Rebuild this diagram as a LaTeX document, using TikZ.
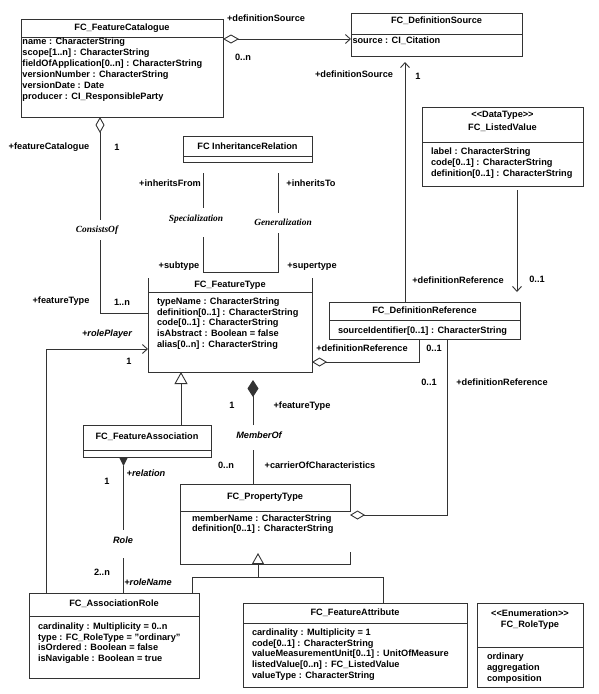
\documentclass[tikz,border=0pt]{standalone}
\usepackage{fontspec}
\setmainfont{Liberation Sans}
\newfontfamily\tnr{Liberation Serif}
\usetikzlibrary{arrows.meta,calc}
\colorlet{lc}{black!80}
\newcommand\sepln[2]{\draw[ln] ($(#1.north west)+(0,#2)$) -- ($(#1.north east)+(0,#2)$);}
\newcommand\lgl{<\kern0pt<}
\newcommand\rgl{>\kern0pt>}
\tikzset{odia/.tip={Diamond[open,length=16pt,width=9pt]}, barb/.tip={Straight Barb[length=5pt,width=9pt]}}
\begin{document}
\begin{tikzpicture}[x=1pt,y=-1pt,
 every node/.style={font=\fontsize{9.2}{10.8}\selectfont\bfseries, inner sep=0pt, outer sep=0pt, text height=6.7pt, text depth=1.9pt, text=black},
 ln/.style={draw=lc, line width=0.9pt},
 box/.style={ln, anchor=north west},
 nobox/.style={anchor=north west},
 attr/.style={anchor=west},
 ilab/.style={font=\fontsize{9.2}{10.8}\selectfont\bfseries\itshape},
 tlab/.style={font=\fontsize{9.4}{10.8}\selectfont\tnr\bfseries\itshape},
]
\useasboundingbox (0,0) rectangle (599,694);
\fill[white] (0,0) rectangle (599,694);

% ---------- classes ----------
\node[box, minimum width=202pt, minimum height=98pt] (fc) at (21,19) {};
\sepln{fc}{18}
\node (fc-t) at (122,28) {FC\_FeatureCatalogue};
\foreach \t [count=\i from 0] in {name : CharacterString, scope[1..n] : CharacterString, fieldOfApplication[0..n] : CharacterString, versionNumber : CharacterString, versionDate : Date, producer : CI\_ResponsibleParty}
  \node[attr] (fc-a\i) at (22.5,42+11.1*\i) {\t};

\node[box, minimum width=171pt, minimum height=43pt] (ds) at (351,13) {};
\sepln{ds}{21}
\node (ds-t) at (436.5,21) {FC\_DefinitionSource};
\node[attr] (ds-a0) at (352.5,41) {source : CI\_Citation};

\node[box, minimum width=161pt, minimum height=79pt] (lv) at (422,107) {};
\sepln{lv}{35}
\node (lv-s) at (502.5,115.5) {\lgl DataType\rgl};
\node (lv-t) at (502.5,128.5) {FC\_ListedValue};
\foreach \t [count=\i from 0] in {label : CharacterString, code[0..1] : CharacterString, definition[0..1] : CharacterString}
  \node[attr] (lv-a\i) at (431,152+10.9*\i) {\t};

\node[box, minimum width=129pt, minimum height=26pt] (ir) at (183,136) {};
\sepln{ir}{20}
\node (ir-t) at (247.5,147) {FC InheritanceRelation};

\node[nobox, minimum width=164pt, minimum height=94pt] (ft) at (148,278) {};
\draw[ln] (ft.north west) -- (ft.south west) -- (ft.south east) -- (ft.north east);
\sepln{ft}{14}
\node (ft-t) at (230,285) {FC\_FeatureType};
\foreach \t [count=\i from 0] in {typeName : CharacterString, definition[0..1] : CharacterString, code[0..1] : CharacterString, isAbstract : Boolean = false, alias[0..n] : CharacterString}
  \node[attr] (ft-a\i) at (157,302+10.75*\i) {\t};

\node[box, minimum width=191pt, minimum height=37pt] (dr) at (329,302) {};
\sepln{dr}{18}
\node (dr-t) at (424.5,311.5) {FC\_DefinitionReference};
\node[attr] (dr-a0) at (338,331) {sourceIdentifier[0..1] : CharacterString};

\node[box, minimum width=128pt, minimum height=32pt] (fa) at (83,425) {};
\sepln{fa}{25}
\node (fa-t) at (147,437) {FC\_FeatureAssociation};

\node[nobox, minimum width=170pt, minimum height=80pt] (pt) at (180,484) {};
\draw[ln] ($(pt.north east)+(0,28)$) -- (pt.north east) -- (pt.north west) -- (pt.south west) -- (pt.south east) -- ++(0,-12);
\sepln{pt}{27}
\node (pt-t) at (265,497) {FC\_PropertyType};
\foreach \t [count=\i from 0] in {memberName : CharacterString, definition[0..1] : CharacterString}
  \node[attr] (pt-a\i) at (192,519+10.4*\i) {\t};

\node[box, minimum width=170pt, minimum height=85pt] (ar) at (29,593) {};
\sepln{ar}{23}
\node (ar-t) at (114,604) {FC\_AssociationRole};
\foreach \t [count=\i from 0] in {cardinality : Multiplicity = 0..n, type : FC\_RoleType = "ordinary", isOrdered : Boolean = false, isNavigable : Boolean = true}
  \node[attr] (ar-a\i) at (38,627+10.75*\i) {\t};

\node[box, minimum width=224pt, minimum height=84pt] (fat) at (243,603) {};
\sepln{fat}{20}
\node (fat-t) at (355,613) {FC\_FeatureAttribute};
\foreach \t [count=\i from 0] in {cardinality : Multiplicity = 1, code[0..1] : CharacterString, valueMeasurementUnit[0..1] : UnitOfMeasure, listedValue[0..n] : FC\_ListedValue, valueType : CharacterString}
  \node[attr] (fat-a\i) at (252,633+10.75*\i) {\t};

\node[box, minimum width=106pt, minimum height=84pt] (rt) at (477,603) {};
\sepln{rt}{44}
\node (rt-s) at (530,614) {\lgl Enumeration\rgl};
\node (rt-t) at (530,625) {FC\_RoleType};
\foreach \t [count=\i from 0] in {ordinary, aggregation, composition}
  \node[attr] (rt-a\i) at (487,657+11*\i) {\t};

% ---------- connectors ----------
\draw[ln, odia-barb] ($(fc.north east)+(0,20)$) -- ($(ds.north west)+(0,26)$);
\draw[ln, -barb] ($(dr.north west)+(76,0)$) -- ($(ds.south west)+(54,6)$);
\draw[ln, -barb] ($(lv.south west)+(95,4)$) -- ($(dr.north west)+(188,-10)$);

\draw[ln] ($(ir.south west)+(20,11)$) -- ++(0,35);
\draw[ln] ($(ir.south west)+(20,75)$) -- ++(0,35) -- ++(75,0) -- ++(0,-39);
\draw[ln] ($(ir.south west)+(95,11)$) -- ++(0,40);

\draw[ln, odia-] ($(fc.south west)+(79,0)$) -- ++(0,103);
\draw[ln] ($(fc.south west)+(79,123)$) |- ($(ft.north west)+(0,35)$);

\draw[ln, -barb] ($(ar.north west)+(17,0)$) |- ($(ft.north west)+(0,71)$);

\draw[ln, -{Triangle[open,length=12pt,width=13pt]}] ($(fa.north west)+(98,0)$) -- ($(ft.south west)+(33,0)$);

\draw[ln, -{Diamond[length=17pt,width=11pt]}] ($(ft.south west)+(105,53)$) -- ($(ft.south west)+(105,8)$);
\draw[ln] ($(pt.north west)+(73,-34)$) -- ($(pt.north west)+(73,0)$);

\draw[ln, -{Diamond[open,length=15pt,width=9pt]}] ($(dr.south west)+(90,0)$) |- ($(ft.north east)+(0,84)$);
\draw[ln, -{Diamond[open,length=15pt,width=9pt]}] ($(dr.south west)+(118,0)$) |- ($(pt.north east)+(0,31)$);

\fill[lc] ($(fa.south west)+(36,0)$) -- ++(9,0) -- ++(-4.5,9) -- cycle;
\draw[ln] ($(fa.south west)+(40,9)$) -- ++(0,64);
\draw[ln] ($(ar.north west)+(94,-35)$) -- ($(ar.north west)+(94,0)$);

\draw[ln, -{Triangle[open,length=11pt,width=12pt]}] ($(pt.south west)+(78,13)$) -- ($(pt.south west)+(78,-11)$);
\draw[ln] ($(ar.north west)+(163,0)$) |- ($(fat.north west)+(140,-26)$) -- ($(fat.north west)+(140,0)$);

% ---------- labels ----------
\node (l01) at (266,19) {+definitionSource};
\node (l02) at (243,58) {0..n};
\node (l03) at (354,75) {+definitionSource};
\node (l04) at (418,77) {1};
\node (l05) at (49,147) {+featureCatalogue};
\node (l06) at (117,148) {1};
\node (l07) at (170,184) {+inheritsFrom};
\node (l08) at (311,184) {+inheritsTo};
\node[tlab] (l09) at (196,219) {Specialization};
\node[tlab] (l10) at (283,223) {Generalization};
\node[tlab] (l11) at (97,230) {ConsistsOf};
\node (l12) at (179,266) {+subtype};
\node (l13) at (312,266) {+supertype};
\node (l14) at (61,301) {+featureType};
\node (l15) at (122,303) {1..n};
\node[ilab] (l16) at (107,334) {+rolePlayer};
\node (l17) at (129,362) {1};
\node (l18) at (362,349) {+definitionReference};
\node (l19) at (434,349) {0..1};
\node (l20) at (429,383) {0..1};
\node (l21) at (502,383) {+definitionReference};
\node (l22) at (458,281) {+definitionReference};
\node (l23) at (537,280) {0..1};
\node (l24) at (232,406) {1};
\node (l25) at (302,406) {+featureType};
\node[ilab] (l26) at (259,436) {MemberOf};
\node (l27) at (226,466) {0..n};
\node (l28) at (320,466) {+carrierOfCharacteristics};
\node[ilab] (l29) at (146,474) {+relation};
\node (l30) at (107,482) {1};
\node[ilab] (l31) at (123,541) {Role};
\node (l32) at (102,573) {2..n};
\node[ilab] (l33) at (148,583) {+roleName};
\end{tikzpicture}
\end{document}
